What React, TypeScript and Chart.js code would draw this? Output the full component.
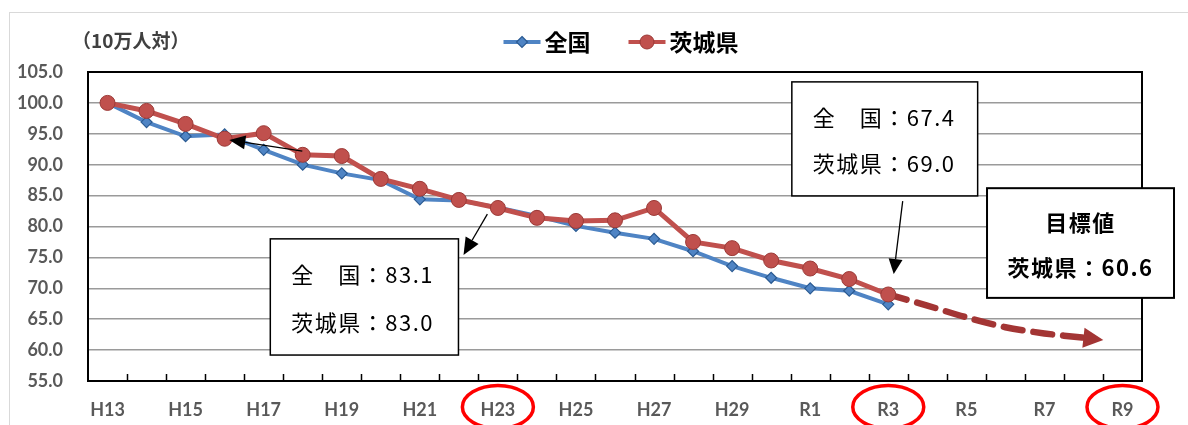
import React, { useEffect, useRef } from 'react';
import { Chart, registerables } from 'chart.js';

Chart.register(...registerables);

// ---------- data ----------
const categories = [
  'H13', 'H14', 'H15', 'H16', 'H17', 'H18', 'H19', 'H20', 'H21', 'H22',
  'H23', 'H24', 'H25', 'H26', 'H27', 'H28', 'H29', 'H30',
  'R1', 'R2', 'R3', 'R4', 'R5', 'R6', 'R7', 'R8', 'R9',
];
const shownTickLabels = ['H13', 'H15', 'H17', 'H19', 'H21', 'H23', 'H25', 'H27', 'H29', 'R1', 'R3', 'R5', 'R7', 'R9'];
const circledLabels = ['H23', 'R3', 'R9'];

const nationalLabel = '全国';
const ibarakiLabel = '茨城県';
const unitLabel = '（10万人対）';

const nationalValues = [100.0, 96.9, 94.6, 94.9, 92.4, 90.0, 88.6, 87.5, 84.4, 84.2, 83.1, 81.7, 80.1, 79.0, 78.0, 76.0, 73.6, 71.7, 70.0, 69.6, 67.4];
const ibarakiValues = [100.0, 98.7, 96.6, 94.2, 95.1, 91.6, 91.4, 87.7, 86.1, 84.3, 83.0, 81.4, 80.9, 81.0, 83.0, 77.5, 76.5, 74.5, 73.2, 71.5, 69.0];
const targetPath = [
  null, null, null, null, null, null, null, null, null, null,
  null, null, null, null, null, null, null, null, null, null,
  69.0, 67.2, 65.3, 63.7, 62.7, 62.0, null,
];

const yMin = 55;
const yMax = 105;
const yStep = 5;

const callout2011 = ['全　国：83.1', '茨城県：83.0'];
const callout2021 = ['全　国：67.4', '茨城県：69.0'];
const targetBoxLines = ['目標値', '茨城県：60.6'];

// ---------- annotation geometry (in category-index / value space) ----------
const box1 = { x1: 4.17, x2: 8.99, y1: 78.0, y2: 59.2 };
const box2 = { x1: 17.53, x2: 22.29, y1: 103.4, y2: 84.95 };
const box3 = { x1: 22.53, x2: 27.32, y1: 86.2, y2: 68.45 };
const arrow1 = { from: [9.73, 82.0], to: [9.12, 75.4] };
const arrow2 = { from: [4.99, 92.2], to: [3.12, 94.0] };
const arrow3 = { from: [20.37, 84.1], to: [20.14, 72.3] };

const BLUE = '#4f84c4';
const BLUE_DARK = '#2a5a92';
const RED = '#c0504d';
const RED_DARK = '#9c3a37';
const TARGET = '#a33534';
const AXIS_TEXT = '#595959';
const LATIN = 'Lato, "Open Sans", sans-serif';
const CJK = '"Noto Sans CJK JP", "Noto Sans", sans-serif';

function drawArrow(ctx: CanvasRenderingContext2D, x1: number, y1: number, x2: number, y2: number, len: number, half: number, width: number, color: string) {
  const ang = Math.atan2(y2 - y1, x2 - x1);
  const bx = x2 - Math.cos(ang) * len;
  const by = y2 - Math.sin(ang) * len;
  ctx.save();
  ctx.strokeStyle = color;
  ctx.lineWidth = width;
  ctx.beginPath();
  ctx.moveTo(x1, y1);
  ctx.lineTo(bx, by);
  ctx.stroke();
  ctx.fillStyle = color;
  ctx.beginPath();
  ctx.moveTo(x2, y2);
  ctx.lineTo(bx + Math.sin(ang) * half, by - Math.cos(ang) * half);
  ctx.lineTo(bx - Math.sin(ang) * half, by + Math.cos(ang) * half);
  ctx.closePath();
  ctx.fill();
  ctx.restore();
}

const decorPlugin = {
  id: 'decor',
  beforeDraw(chart: any) {
    const ctx: CanvasRenderingContext2D = chart.ctx;
    ctx.save();
    ctx.fillStyle = '#ffffff';
    ctx.fillRect(0, 0, chart.width, chart.height);
    // outer light frame
    ctx.strokeStyle = '#d9d9d9';
    ctx.lineWidth = 1;
    ctx.strokeRect(9.5, 12.5, chart.width + 20, chart.height + 20);
    ctx.restore();
  },
  afterDatasetsDraw(chart: any) {
    const ctx: CanvasRenderingContext2D = chart.ctx;
    // arrow head at the end of the target path
    const meta = chart.getDatasetMeta(2);
    const pts = meta.data.filter((_: any, i: number) => targetPath[i] !== null);
    if (pts.length >= 2) {
      const a = pts[pts.length - 2];
      const b = pts[pts.length - 1];
      const ang = Math.atan2(b.y - a.y, b.x - a.x);
      const tipX = b.x + Math.cos(ang) * 20;
      const tipY = b.y + Math.sin(ang) * 20;
      ctx.save();
      ctx.fillStyle = TARGET;
      ctx.beginPath();
      ctx.moveTo(tipX, tipY);
      ctx.lineTo(b.x + Math.sin(ang) * 10, b.y - Math.cos(ang) * 10);
      ctx.lineTo(b.x - Math.sin(ang) * 10, b.y + Math.cos(ang) * 10);
      ctx.closePath();
      ctx.fill();
      ctx.restore();
    }
  },
  afterDraw(chart: any) {
    const ctx: CanvasRenderingContext2D = chart.ctx;
    const xs = chart.scales.x;
    const ys = chart.scales.y;
    const { left, right, top, bottom } = chart.chartArea;
    const P = (xi: number, v: number) => [xs.getPixelForValue(xi), ys.getPixelForValue(v)];

    ctx.save();
    // plot border
    ctx.strokeStyle = '#000000';
    ctx.lineWidth = 2;
    ctx.strokeRect(left, top, right - left, bottom - top);
    // inside tick marks at category boundaries
    ctx.lineWidth = 1.5;
    ctx.beginPath();
    for (let i = 1; i < categories.length; i++) {
      const bx = Math.round((xs.getPixelForValue(i - 1) + xs.getPixelForValue(i)) / 2) + 0.5;
      ctx.moveTo(bx, bottom);
      ctx.lineTo(bx, bottom - 7);
    }
    ctx.stroke();

    // unit label
    ctx.fillStyle = '#404040';
    ctx.font = `bold 19px ${CJK}`;
    ctx.textAlign = 'left';
    ctx.textBaseline = 'middle';
    ctx.fillText(unitLabel, 72, 41);

    // legend
    const legendItems = [
      { label: nationalLabel, color: BLUE, marker: 'diamond' },
      { label: ibarakiLabel, color: RED, marker: 'circle' },
    ];
    ctx.font = `bold 23px ${CJK}`;
    const sampleW = 37;
    const gapText = 4;
    const gapItems = 38;
    const widths = legendItems.map((it) => sampleW + gapText + ctx.measureText(it.label).width);
    const total = widths.reduce((a, b) => a + b, 0) + gapItems * (legendItems.length - 1);
    let lx = 621 - total / 2;
    const ly = 42;
    legendItems.forEach((it, i) => {
      ctx.strokeStyle = it.color;
      ctx.lineWidth = 4;
      ctx.beginPath();
      ctx.moveTo(lx, ly);
      ctx.lineTo(lx + sampleW, ly);
      ctx.stroke();
      const cx = lx + sampleW / 2;
      if (it.marker === 'diamond') {
        ctx.fillStyle = BLUE;
        ctx.strokeStyle = BLUE_DARK;
        ctx.lineWidth = 1.2;
        ctx.beginPath();
        ctx.moveTo(cx, ly - 5.5);
        ctx.lineTo(cx + 5.5, ly);
        ctx.lineTo(cx, ly + 5.5);
        ctx.lineTo(cx - 5.5, ly);
        ctx.closePath();
        ctx.fill();
        ctx.stroke();
      } else {
        ctx.fillStyle = RED;
        ctx.strokeStyle = RED_DARK;
        ctx.lineWidth = 1;
        ctx.beginPath();
        ctx.arc(cx, ly, 7, 0, Math.PI * 2);
        ctx.fill();
        ctx.stroke();
      }
      ctx.fillStyle = '#000000';
      ctx.textAlign = 'left';
      ctx.textBaseline = 'middle';
      ctx.fillText(it.label, lx + sampleW + gapText, ly);
      lx += widths[i] + gapItems;
    });

    // arrows
    const drawA = (a: { from: number[]; to: number[] }, len: number, half: number) => {
      const [x1, y1] = P(a.from[0], a.from[1]);
      const [x2, y2] = P(a.to[0], a.to[1]);
      drawArrow(ctx, x1, y1, x2, y2, len, half, 1.3, '#000000');
    };
    drawA(arrow1, 17, 7.5);
    drawA(arrow2, 16, 7);
    drawA(arrow3, 15, 7);

    // boxes
    const drawBox = (b: { x1: number; x2: number; y1: number; y2: number }, lines: string[], bold: boolean, centered: boolean, lw: number) => {
      const [bx1, by1] = P(b.x1, b.y1);
      const [bx2, by2] = P(b.x2, b.y2);
      ctx.fillStyle = '#ffffff';
      ctx.fillRect(bx1, by1, bx2 - bx1, by2 - by1);
      ctx.strokeStyle = '#000000';
      ctx.lineWidth = lw;
      ctx.strokeRect(bx1, by1, bx2 - bx1, by2 - by1);
      ctx.fillStyle = '#000000';
      ctx.font = `${bold ? 'bold ' : ''}22px ${CJK}`;
      (ctx as any).letterSpacing = '1.5px';
      ctx.textBaseline = 'middle';
      const h = by2 - by1;
      lines.forEach((t, i) => {
        const ty = by1 + h * (i === 0 ? 0.31 : 0.72);
        if (centered) {
          ctx.textAlign = 'center';
          ctx.fillText(t, (bx1 + bx2) / 2, ty);
        } else {
          ctx.textAlign = 'left';
          ctx.fillText(t, bx1 + 21, ty);
        }
      });
      (ctx as any).letterSpacing = '0px';
    };
    drawBox(box1, callout2011, false, false, 1.5);
    drawBox(box2, callout2021, false, false, 1.5);
    drawBox(box3, targetBoxLines, true, true, 2);

    // red circles around key years
    ctx.strokeStyle = '#ff0000';
    ctx.lineWidth = 3.5;
    circledLabels.forEach((lab) => {
      const idx = categories.indexOf(lab);
      const cx = xs.getPixelForValue(idx);
      ctx.beginPath();
      ctx.ellipse(cx, 407, 35.5, 21.5, 0, 0, Math.PI * 2);
      ctx.stroke();
    });
    ctx.restore();
  },
};

export default function App() {
  const ref = useRef<HTMLCanvasElement | null>(null);

  useEffect(() => {
    document.body.style.margin = '0';
    const canvas = ref.current;
    if (!canvas) return;
    const chart = new Chart(canvas, {
      type: 'line',
      data: {
        labels: categories,
        datasets: [
          {
            label: nationalLabel,
            data: nationalValues,
            borderColor: BLUE,
            backgroundColor: BLUE,
            borderWidth: 4,
            pointStyle: 'rectRot',
            pointRadius: 5.5,
            pointBackgroundColor: BLUE,
            pointBorderColor: BLUE_DARK,
            pointBorderWidth: 1.2,
            tension: 0,
            order: 1,
          },
          {
            label: ibarakiLabel,
            data: ibarakiValues,
            borderColor: RED,
            backgroundColor: RED,
            borderWidth: 5,
            pointStyle: 'circle',
            pointRadius: 7.5,
            pointBackgroundColor: RED,
            pointBorderColor: RED_DARK,
            pointBorderWidth: 1,
            tension: 0,
            order: 0,
          },
          {
            label: '目標',
            data: targetPath,
            borderColor: TARGET,
            borderWidth: 6.5,
            borderDash: [19, 11],
            borderCapStyle: 'round',
            pointRadius: 0,
            tension: 0.3,
            spanGaps: false,
            order: 2,
          },
        ],
      },
      options: {
        responsive: false,
        animation: false,
        events: [],
        layout: { padding: { top: 72, right: 46, left: 0, bottom: 0 } },
        plugins: {
          legend: { display: false },
          tooltip: { enabled: false },
          title: { display: false },
        },
        scales: {
          x: {
            type: 'category',
            offset: true,
            grid: { display: false, drawTicks: false },
            border: { display: false },
            ticks: {
              autoSkip: false,
              maxRotation: 0,
              minRotation: 0,
              padding: 18,
              color: AXIS_TEXT,
              font: { family: LATIN, size: 18, weight: 'bold' },
              callback: (_v: any, i: number) => (shownTickLabels.includes(categories[i]) ? categories[i] : ''),
            },
            afterFit: (s: any) => {
              s.height = 44;
            },
          },
          y: {
            min: yMin,
            max: yMax,
            grid: { color: '#9a9a9a', lineWidth: 1.5, drawTicks: false },
            border: { display: false },
            ticks: {
              stepSize: yStep,
              padding: 25,
              color: AXIS_TEXT,
              font: { family: LATIN, size: 18, weight: 'bold' },
              callback: (v: any) => Number(v).toFixed(1),
            },
            afterFit: (s: any) => {
              s.width = 88;
            },
          },
        },
      },
      plugins: [decorPlugin],
    });
    return () => chart.destroy();
  }, []);

  return (
    <div style={{ width: 1188, height: 425, position: 'relative', overflow: 'hidden', background: '#fff' }}>
      <canvas ref={ref} width={1188} height={425} style={{ display: 'block' }} />
    </div>
  );
}
